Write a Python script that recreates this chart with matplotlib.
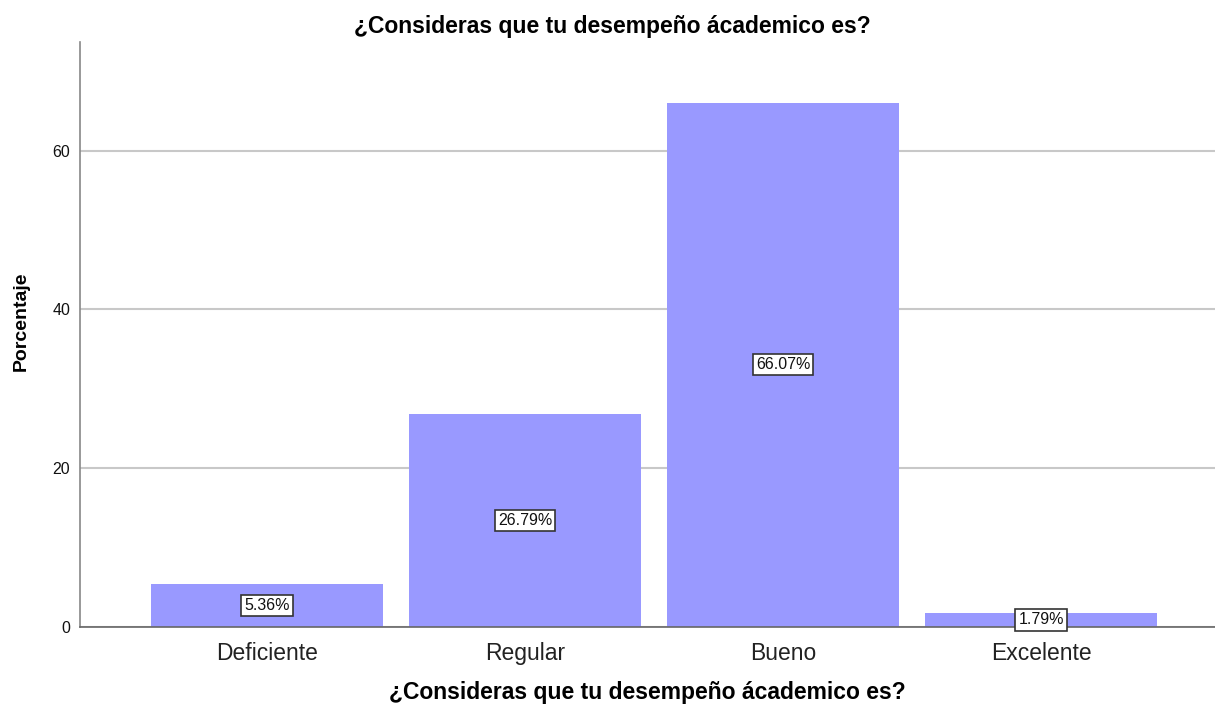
import matplotlib
matplotlib.use("Agg")
import matplotlib.pyplot as plt

categories = ["Deficiente", "Regular", "Bueno", "Excelente"]
values = [5.36, 26.79, 66.07, 1.79]
yticks = [0, 20, 40, 60]
title = "¿Consideras que tu desempeño ácademico es?"

plt.rcParams['font.family'] = ['Liberation Sans', 'DejaVu Sans']

fig = plt.figure(figsize=(12.15, 7.08), dpi=100)
ax_w = 1 - 80/1215
ax_h = (627-42)/708
ax = fig.add_axes([80/1215, 81/708, ax_w, ax_h])

x = list(range(len(categories)))
ax.bar(x, values, width=0.9, color="#9999FF", zorder=2)

for xi, v in zip(x, values):
    ax.text(xi, max(v / 2, 0.9), f"{v:.2f}%", ha="center", va="center", fontsize=11.5,
            color="#111111", zorder=3,
            bbox=dict(boxstyle="square,pad=0.2", facecolor="white", edgecolor="#333333", linewidth=1.2))

ax.set_xlim(-0.725, 3.674)
ax.set_ylim(0, 73.7)
ax.set_yticks(yticks)
ax.set_xticks(x)
ax.set_xticklabels(categories, fontsize=16.5, color="#222222")
ax.tick_params(axis="y", length=0, labelsize=11.5, pad=7, labelcolor="#111111")
ax.tick_params(axis="x", length=0, pad=11)
ax.yaxis.grid(True, color="#c8c8c8", linewidth=1.5, zorder=0)
ax.set_axisbelow(True)
for s in ["top", "right"]:
    ax.spines[s].set_visible(False)
ax.spines["left"].set_color("#888888")
ax.spines["bottom"].set_color("#666666")
ax.spines["left"].set_linewidth(1.2)
ax.spines["bottom"].set_linewidth(1.2)

ax.set_ylabel("Porcentaje", fontsize=14, fontweight="bold", va="center")
ax.yaxis.set_label_coords(-59/1135, (627-321)/585)
ax.set_xlabel(title, fontsize=16.5, fontweight="bold", va="center")
ax.xaxis.set_label_coords(0.5, -(693-627)/585)
fig.text(612/1215, 1 - 26/708, title, ha="center", va="center", fontsize=16.5, fontweight="bold")

fig.savefig("out.png", dpi=100)
